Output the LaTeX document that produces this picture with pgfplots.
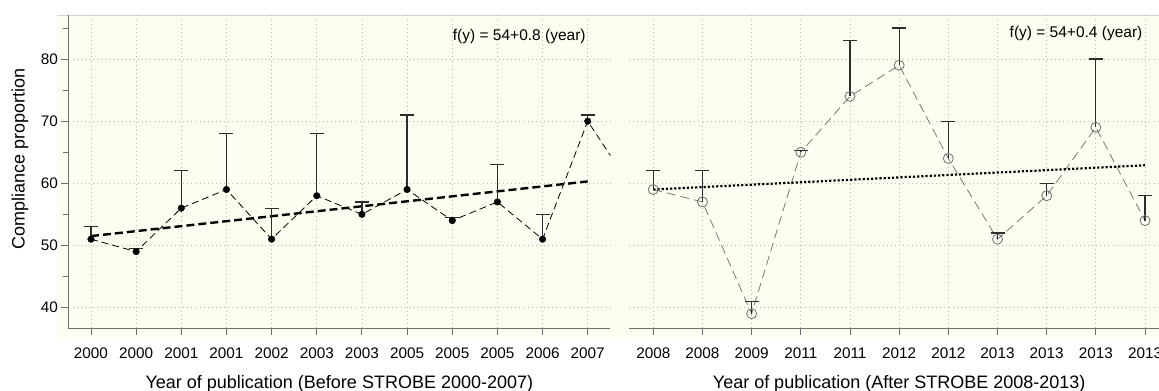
\documentclass[border=0pt]{standalone}
\usepackage{fontspec}
\setmainfont{Liberation Sans}
\usepackage{pgfplots}
\pgfplotsset{compat=1.18}
\usepackage{pgfplotstable}
\definecolor{bgivory}{RGB}{254,253,242}
\definecolor{axgray}{RGB}{110,110,110}
\definecolor{gridgray}{RGB}{185,185,180}
\definecolor{errgray}{RGB}{45,45,45}
\definecolor{rightline}{RGB}{120,120,120}

\pgfplotstableread{
x y err
0 51 2
1 49 0.5
2 56 6
3 59 9
4 51 5
5 58 10
6 55 2
7 59 12
8 54 0.5
9 57 6
10 51 4
11 70 1
}\before
\pgfplotstableread{
x y
0 51
1 49
2 56
3 59
4 51
5 58
6 55
7 59
8 54
9 57
10 51
11 70
12 59
}\beforeline
\pgfplotstableread{
x y err
0 59 3
1 57 5
2 39 2
3 65 0.3
4 74 9
5 79 6
6 64 6
7 51 1
8 58 2
9 69 11
10 54 4
}\after

\pgfplotsset{
  panel/.style={
    scale only axis,
    height=313bp,
    ymin=36.7, ymax=87.1,
    ytick={40,50,60,70,80},
    minor ytick={45,55,65,75,85},
    axis x line=bottom, axis y line=left,
    axis line style={-, draw=axgray, line width=0.9bp},
    tick style={draw=axgray, line width=0.9bp},
    tick align=outside,
    major tick length=7bp, minor tick length=5bp,
    xmajorgrids, ymajorgrids,
    major grid style={draw=gridgray, dash pattern=on 0.9bp off 3.2bp, line width=0.8bp},
    xtick=data,
    /pgf/number format/assume math mode=true,
    tick label style={font=\fontsize{15.3bp}{17bp}\selectfont},
    xticklabel style={anchor=base, yshift=-23bp},
    yticklabel style={anchor=east},
    label style={font=\fontsize{18bp}{20bp}\selectfont},
    xlabel style={at={(axis description cs:0.5,0)}, anchor=base, yshift=-60bp},
    clip=true,
  },
}

\begin{document}
\begin{tikzpicture}
\fill[bgivory] (56.7bp,53.3bp) rectangle (1159bp,376bp);
\draw[gray!35, line width=0.6bp] (56.7bp,376bp) -- (1159bp,376bp);

\begin{axis}[panel,
  at={(68.4bp,63bp)}, anchor=south west,
  width=541.9bp,
  xmin=-0.5, xmax=11.5,
  xticklabels={2000,2000,2001,2001,2002,2003,2003,2005,2005,2005,2006,2007},
  xlabel={Year of publication (Before STROBE 2000-2007)},
  ylabel={Compliance proportion},
  ylabel style={at={(axis description cs:-0.0893,0.54)}, anchor=center},
]
\addplot[black, dash pattern=on 7bp off 4bp, line width=0.8bp] table[x=x,y=y] {\beforeline};
\addplot[black, dash pattern=on 8bp off 4bp, line width=2.4bp] coordinates {(0,51.5) (11,60.3)};
\addplot[only marks, mark=*, mark size=3.3bp, mark options={fill=black, draw=black},
  error bars/.cd, y dir=plus, y explicit,
  error bar style={solid, draw=errgray, line width=1.2bp},
  error mark options={rotate=90, mark size=7bp, solid, draw=errgray, line width=1.2bp},
] table[x=x, y=y, y error=err] {\before};
\node[font=\fontsize{15.5bp}{17bp}\selectfont] at (axis description cs:0.832,0.931) {f(y) = 54+0.8 (year)};
\end{axis}

\begin{axis}[panel,
  at={(628.7bp,63bp)}, anchor=south west,
  width=540.9bp,
  xmin=-0.5, xmax=10.5,
  xticklabels={2008,2008,2009,2011,2011,2012,2012,2013,2013,2013,2013},
  xlabel={Year of publication (After STROBE 2008-2013)},
  yticklabels={},
  y axis line style={draw=none},
  ytick style={draw=none},
  minor ytick={},
]
\addplot[rightline, dash pattern=on 9bp off 5bp, line width=0.8bp] table[x=x,y=y] {\after};
\addplot[black, dotted, line width=2.2bp] coordinates {(0,59) (10,62.9)};
\addplot[only marks, mark=o, mark size=5bp, mark options={fill=white, draw=axgray, line width=0.8bp},
  error bars/.cd, y dir=plus, y explicit,
  error bar style={solid, draw=errgray, line width=1.2bp},
  error mark options={rotate=90, mark size=7bp, solid, draw=errgray, line width=1.2bp},
] table[x=x, y=y, y error=err] {\after};
\node[font=\fontsize{15.5bp}{17bp}\selectfont] at (axis description cs:0.827,0.9415) {f(y) = 54+0.4 (year)};
\end{axis}

\pgfresetboundingbox
\useasboundingbox (0,0) rectangle (1159bp,391bp);
\end{tikzpicture}
\end{document}
